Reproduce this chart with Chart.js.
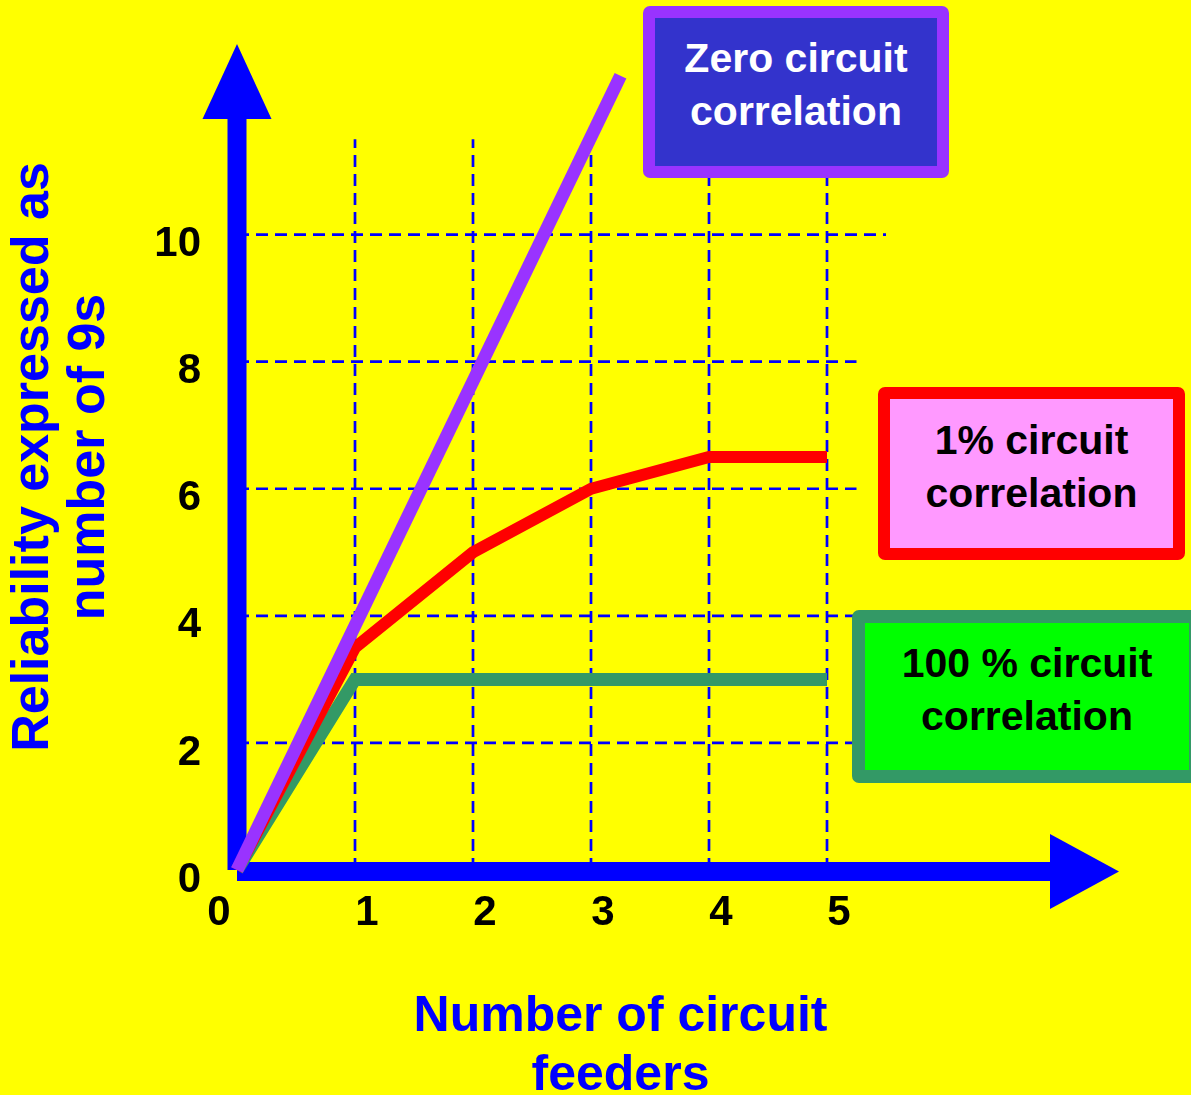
<!DOCTYPE html>
<html>
<head>
<meta charset="utf-8">
<script src="https://cdn.jsdelivr.net/npm/chart.js@4.4.1/dist/chart.umd.min.js"></script>
<style>
html,body{margin:0;padding:0;background:#ffff00;overflow:hidden;}
#wrap{position:relative;width:1191px;height:1095px;overflow:hidden;}
#c{position:absolute;left:0;top:0;}
.box{position:absolute;box-sizing:border-box;font-family:"Liberation Sans",Arial,sans-serif;font-weight:bold;font-size:41px;line-height:53px;text-align:center;white-space:nowrap;}
</style>
</head>
<body>
<div id="wrap"><canvas id="c" width="1191" height="1095"></canvas></div>
<script>
// ---- data ----
const feeders = [0, 1, 2, 3, 4, 5];
const zeroCorrX = [0, 3.25];
const zeroCorrY = [0, 12.5];
const onePctY = [0, 3.5, 5.0, 6.0, 6.5, 6.5];
const hundredPctY = [0, 3.0, 3.0, 3.0, 3.0, 3.0];
const yTicks = [0, 2, 4, 6, 8, 10];
const xTicks = [1, 2, 3, 4, 5];
const xOriginTick = [0];
const seriesNames = ['Zero circuit correlation', '1% circuit correlation', '100 % circuit correlation'];
const boxLines = [['Zero circuit', 'correlation'], ['1% circuit', 'correlation'], ['100 % circuit', 'correlation']];
const yTitle = ['Reliability expressed as', 'number of 9s'];
const xTitle = ['Number of circuit', 'feeders'];

// ---- styles ----
const FONT = '"Liberation Sans", Arial, Helvetica, sans-serif';
const BLUE = '#0000ff';
const lineColors = ['#9933ff', '#ff0000', '#339966'];
const lineWidths = [13, 12, 13];
const boxStyles = [
  {left: 643, top: 6, width: 306, height: 172, border: '12px solid #9933ff', bg: '#3333cc', color: '#ffffff', radius: 7, pad: 14},
  {left: 878, top: 387, width: 307, height: 173, border: '12px solid #ff0000', bg: '#ff99ff', color: '#000000', radius: 7, pad: 15},
  {left: 852, top: 610, width: 350, height: 173, border: '13px solid #339966', bg: '#00ff00', color: '#000000', radius: 7, pad: 14}
];

Chart.defaults.font.family = FONT;

const decor = {
  id: 'decor',
  beforeDatasetsDraw(chart) {
    const ctx = chart.ctx;
    const xs = chart.scales.x, ys = chart.scales.y;
    const X = v => xs.getPixelForValue(v), Y = v => ys.getPixelForValue(v);
    ctx.save();
    // dashed grid
    ctx.strokeStyle = BLUE;
    ctx.lineWidth = 2.7;
    ctx.setLineDash([12, 7]);
    yTicks.filter(v => v > 0).forEach(v => {
      ctx.beginPath();
      ctx.moveTo(X(0), Y(v));
      ctx.lineTo(X(v === 10 ? 5.5 : 5.25), Y(v));
      ctx.stroke();
    });
    xTicks.forEach(v => {
      ctx.beginPath();
      ctx.moveTo(X(v), Y(0));
      ctx.lineTo(X(v), Y(11.5));
      ctx.stroke();
    });
    ctx.setLineDash([]);
    // axis arrows
    const ox = X(0), oy = Y(0);
    ctx.fillStyle = BLUE;
    // vertical
    const yTip = ys.top, yBase = yTip + 75;
    ctx.fillRect(ox - 9.5, yBase - 1, 19, oy - yBase + 1);
    ctx.beginPath();
    ctx.moveTo(ox, yTip);
    ctx.lineTo(ox + 34.5, yBase);
    ctx.lineTo(ox - 34.5, yBase);
    ctx.closePath();
    ctx.fill();
    // horizontal
    const cy = oy + 1.5;
    const xBase = ox + 813, xTip = ox + 882;
    ctx.fillRect(ox, cy - 9.5, xBase - ox + 1, 19);
    ctx.beginPath();
    ctx.moveTo(xTip, cy);
    ctx.lineTo(xBase, cy - 37.5);
    ctx.lineTo(xBase, cy + 37.5);
    ctx.closePath();
    ctx.fill();
    ctx.restore();
  }
};

const tickFont = {family: FONT, size: 42, weight: 'bold'};

new Chart(document.getElementById('c'), {
  type: 'line',
  data: {
    datasets: [
      {label: seriesNames[0], data: zeroCorrX.map((v, i) => ({x: v, y: zeroCorrY[i]}))},
      {label: seriesNames[1], data: feeders.map((v, i) => ({x: v, y: onePctY[i]}))},
      {label: seriesNames[2], data: feeders.map((v, i) => ({x: v, y: hundredPctY[i]}))}
    ].map((d, i) => Object.assign(d, {
      borderColor: lineColors[i], backgroundColor: lineColors[i], borderWidth: lineWidths[i],
      pointRadius: 0, pointHoverRadius: 0, tension: 0, fill: false, clip: false,
      borderJoinStyle: 'miter', borderCapStyle: 'butt', xAxisID: 'x', yAxisID: 'y'
    }))
  },
  options: {
    responsive: false,
    devicePixelRatio: 1,
    animation: false,
    events: [],
    layout: {padding: {top: 44, right: 187, bottom: 0, left: 0}},
    plugins: {legend: {display: false}, tooltip: {enabled: false}},
    scales: {
      x: {
        type: 'linear', position: 'bottom', weight: 1, min: 0, max: 6.5,
        grid: {display: false, drawTicks: false}, border: {display: false},
        afterBuildTicks: s => { s.ticks = xTicks.map(v => ({value: v})); },
        ticks: {font: tickFont, color: '#000000', padding: 18, labelOffset: 12, maxRotation: 0, autoSkip: false, callback: v => String(v)},
        title: {display: true, text: xTitle, color: BLUE, font: {family: FONT, size: 50, weight: 'bold', lineHeight: 59 / 50}, padding: {top: 0, bottom: -11}},
        afterFit: s => { s.height = 225; s.paddingLeft = 0; s.paddingRight = 0; }
      },
      x0: {
        type: 'linear', axis: 'x', position: 'bottom', weight: 0, min: 0, max: 6.5,
        grid: {display: false, drawTicks: false}, border: {display: false},
        afterBuildTicks: s => { s.ticks = xOriginTick.map(v => ({value: v})); },
        ticks: {font: tickFont, color: '#000000', padding: 18, labelOffset: -18, maxRotation: 0, autoSkip: false, callback: v => String(v)},
        title: {display: false},
        afterFit: s => {
          s.height = 0; s.paddingLeft = 0; s.paddingRight = 0;
          s._computeLabelArea = () => undefined;
        }
      },
      y: {
        type: 'linear', position: 'left', min: 0, max: 13,
        grid: {display: false, drawTicks: false}, border: {display: false},
        afterBuildTicks: s => { s.ticks = yTicks.map(v => ({value: v})); },
        ticks: {font: tickFont, color: '#000000', padding: 36, labelOffset: 10, autoSkip: false, callback: v => String(v)},
        title: {display: true, text: yTitle, color: BLUE, font: {family: FONT, size: 52, weight: 'bold', lineHeight: 56 / 52}, padding: {top: 6, bottom: 0}},
        afterFit: s => { s.width = 237; s.paddingTop = 0; s.paddingBottom = 0; }
      }
    }
  },
  plugins: [decor]
});

// legend boxes
const wrap = document.getElementById('wrap');
boxLines.forEach((lines, i) => {
  const st = boxStyles[i];
  const d = document.createElement('div');
  d.className = 'box';
  d.style.left = st.left + 'px';
  d.style.top = st.top + 'px';
  d.style.width = st.width + 'px';
  d.style.height = st.height + 'px';
  d.style.border = st.border;
  d.style.background = st.bg;
  d.style.color = st.color;
  d.style.borderRadius = st.radius + 'px';
  d.style.paddingTop = st.pad + 'px';
  d.innerHTML = lines.join('<br>');
  wrap.appendChild(d);
});
</script>
</body>
</html>
